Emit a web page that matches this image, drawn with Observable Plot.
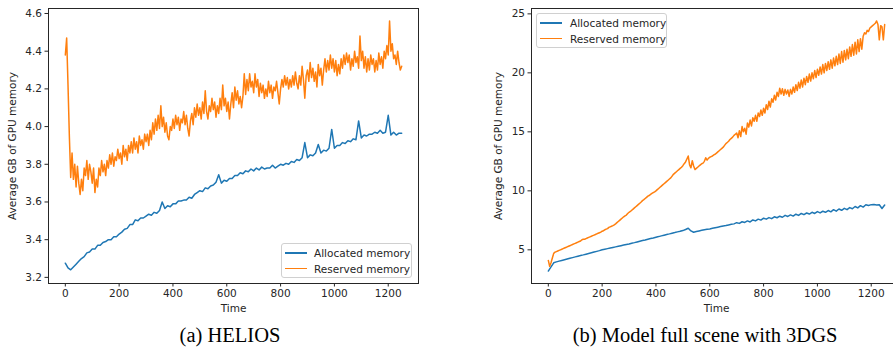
<!DOCTYPE html>
<html><head><meta charset="utf-8">
<script src="https://cdn.jsdelivr.net/npm/d3@7"></script>
<script src="https://cdn.jsdelivr.net/npm/@observablehq/plot@0.6"></script>
<style>
html,body{margin:0;padding:0;background:#fff;width:893px;height:360px;overflow:hidden;}
body{position:relative;font-family:"DejaVu Sans",sans-serif;}
.panel{position:absolute;top:0;}
.legend{position:absolute;border:1px solid #d0d0d0;border-radius:3px;background:rgba(255,255,255,0.85);font-size:10.5px;color:#262626;box-sizing:border-box;}
.legend .sw{position:absolute;height:1.5px;width:22px;}
.legend .lb{position:absolute;line-height:16px;white-space:nowrap;}
.caption{position:absolute;font-family:"Liberation Serif","Times New Roman",serif;font-size:20.5px;color:#000;white-space:nowrap;transform:translateX(-50%);line-height:1;}
</style>
</head><body>
<script>
// ---------- data ----------
const seriesNames = ["Allocated memory", "Reserved memory"];
const seriesColors = ["#1f77b4", "#ff7f0e"];
const xTicks = [0, 200, 400, 600, 800, 1000, 1200];
const xLabel = "Time";
const yLabel = "Average GB of GPU memory";
const captions = ["(a) HELIOS", "(b) Model full scene with 3DGS"];

// (a) HELIOS
const helTimeAlloc = d3.range(0, 1251, 10);
const helAlloc = [
3.275,3.25,3.24,3.255,3.27,3.285,3.30,3.31,3.33,3.335,
3.35,3.35,3.37,3.37,3.385,3.39,3.40,3.40,3.415,3.415,
3.43,3.44,3.455,3.46,3.48,3.48,3.505,3.50,3.515,3.515,
3.525,3.535,3.53,3.545,3.54,3.555,3.60,3.565,3.58,3.575,
3.59,3.59,3.605,3.605,3.61,3.61,3.625,3.62,3.64,3.65,
3.66,3.655,3.675,3.67,3.685,3.69,3.705,3.745,3.70,3.715,
3.71,3.725,3.725,3.74,3.74,3.755,3.75,3.765,3.76,3.775,
3.765,3.78,3.77,3.785,3.775,3.78,3.78,3.795,3.78,3.79,
3.80,3.795,3.805,3.80,3.815,3.81,3.825,3.82,3.835,3.915,
3.835,3.85,3.845,3.86,3.905,3.86,3.875,3.87,3.885,3.985,
3.885,3.90,3.90,3.915,3.91,3.925,3.92,3.935,3.93,4.03,
3.94,3.955,3.95,3.96,3.96,3.97,3.965,3.98,3.965,3.97,
4.06,3.955,3.97,3.955,3.965,3.965
];
const helTimeRes = d3.range(0, 1251, 5);
const helRes = [
4.38,4.47,4.22,3.95,3.73,3.86,3.72,3.80,3.68,3.79,
3.70,3.64,3.72,3.66,3.78,3.74,3.82,3.72,3.80,3.76,
3.70,3.78,3.65,3.72,3.68,3.78,3.74,3.82,3.76,3.80,
3.74,3.82,3.78,3.85,3.80,3.86,3.79,3.84,3.82,3.88,
3.83,3.86,3.80,3.90,3.84,3.88,3.82,3.90,3.86,3.92,
3.86,3.94,3.88,3.92,3.86,3.95,3.90,3.93,3.88,3.96,
3.92,3.96,3.90,3.98,3.93,4.02,3.96,4.04,3.98,4.06,
3.99,4.11,4.00,4.05,3.97,4.02,3.95,3.93,4.00,3.98,
4.04,3.99,4.06,4.01,4.05,3.98,4.04,4.02,4.08,4.01,
4.06,3.99,3.95,4.03,4.07,4.01,4.10,4.05,4.12,4.06,
4.10,4.04,4.13,4.07,4.19,4.08,4.04,4.11,4.08,4.15,
4.09,4.13,4.05,4.11,4.07,4.15,4.09,4.22,4.11,4.15,
4.08,4.13,4.04,4.12,4.18,4.10,4.21,4.14,4.19,4.12,
4.16,4.10,4.16,4.28,4.17,4.25,4.19,4.28,4.21,4.24,
4.18,4.28,4.21,4.25,4.16,4.23,4.18,4.22,4.15,4.20,
4.16,4.24,4.18,4.22,4.15,4.21,4.19,4.24,4.18,4.12,
4.20,4.25,4.21,4.27,4.22,4.26,4.20,4.25,4.21,4.27,
4.22,4.29,4.23,4.20,4.27,4.22,4.32,4.25,4.15,4.27,
4.30,4.24,4.34,4.26,4.31,4.24,4.29,4.21,4.33,4.27,
4.31,4.22,4.30,4.36,4.29,4.35,4.30,4.38,4.31,4.36,
4.29,4.35,4.27,4.33,4.28,4.36,4.31,4.38,4.33,4.39,
4.34,4.38,4.30,4.36,4.32,4.40,4.34,4.37,4.31,4.48,
4.35,4.40,4.31,4.37,4.29,4.36,4.30,4.38,4.33,4.36,
4.29,4.35,4.30,4.39,4.33,4.37,4.31,4.40,4.36,4.43,
4.38,4.56,4.40,4.44,4.36,4.38,4.33,4.40,4.34,4.30,
4.32
];
const helYTicks = [3.2, 3.4, 3.6, 3.8, 4.0, 4.2, 4.4, 4.6];

// (b) Model full scene with 3DGS
const fullTimeAlloc = d3.range(0, 1251, 10);
const fullAlloc = [
3.2,3.55,3.9,3.98,4.04,4.1,4.16,4.22,4.28,4.34,
4.4,4.46,4.52,4.57,4.63,4.69,4.75,4.81,4.87,4.93,
5.0,5.05,5.1,5.15,5.2,5.25,5.3,5.35,5.4,5.45,
5.5,5.56,5.61,5.67,5.73,5.79,5.84,5.9,5.96,6.01,
6.07,6.12,6.18,6.24,6.3,6.35,6.41,6.46,6.52,6.57,
6.63,6.72,6.83,6.6,6.49,6.55,6.6,6.65,6.7,6.74,
6.77,6.82,6.87,6.92,6.97,7.02,7.06,7.11,7.16,7.2,
7.3,7.24,7.38,7.32,7.45,7.36,7.53,7.45,7.6,7.52,
7.68,7.6,7.73,7.64,7.8,7.72,7.85,7.76,7.92,7.83,
7.96,7.86,8.02,7.92,8.08,7.98,8.12,8.03,8.18,8.08,
8.24,8.13,8.27,8.18,8.33,8.22,8.4,8.28,8.46,8.35,
8.52,8.4,8.58,8.48,8.67,8.55,8.74,8.62,8.82,8.76,
8.83,8.85,8.8,8.82,8.5,8.8
];
const fullTimeRes = d3.range(0, 1251, 5);
const fullRes = [
4.1,3.6,3.9,4.3,4.7,4.8,4.85,4.9,4.95,5.0,
5.05,5.1,5.15,5.2,5.25,5.3,5.35,5.4,5.45,5.5,
5.55,5.6,5.65,5.7,5.75,5.85,5.9,5.9,5.95,6.0,
6.05,6.1,6.15,6.2,6.25,6.3,6.35,6.4,6.45,6.5,
6.58,6.62,6.7,6.75,6.8,6.9,6.95,7.0,7.05,7.12,
7.2,7.3,7.4,7.5,7.6,7.7,7.8,7.88,7.95,8.08,
8.18,8.25,8.35,8.45,8.55,8.65,8.75,8.85,8.95,9.05,
9.17,9.25,9.35,9.45,9.55,9.6,9.7,9.78,9.85,9.92,
10.0,10.1,10.2,10.3,10.4,10.5,10.6,10.7,10.8,10.9,
11.0,11.1,11.25,11.4,11.5,11.6,11.7,11.8,11.9,12.0,
12.13,12.3,12.45,12.7,12.95,12.2,11.95,12.55,12.1,11.8,
11.9,12.0,12.1,12.2,12.3,12.35,12.5,12.8,12.6,12.75,
12.85,12.9,12.95,13.05,13.1,13.2,13.3,13.4,13.5,13.6,
13.7,13.85,14.0,14.1,14.2,14.35,14.45,14.55,14.7,14.8,
14.9,14.5,15.1,14.6,15.45,15.0,15.3,14.8,15.75,15.4,
16.0,15.5,16.2,15.9,16.4,15.9,16.6,16.3,16.85,16.4,
17.0,16.6,17.3,16.9,17.6,17.1,17.8,17.5,18.1,17.7,
18.35,18.0,18.7,18.2,18.65,18.1,18.6,18.2,18.55,18.0,
18.6,18.2,18.8,18.35,19.0,18.5,19.2,18.7,19.4,18.8,
19.55,19.0,19.7,19.2,19.9,19.3,20.0,19.5,20.2,19.6,
20.3,19.8,20.5,19.9,20.7,20.0,20.8,20.2,20.95,20.3,
21.1,20.4,21.25,20.6,21.4,20.7,21.6,20.8,21.8,20.9,
21.9,21.1,22.0,21.2,22.2,21.4,22.4,21.5,22.6,21.6,
22.8,21.8,22.9,22.0,23.1,23.4,23.3,23.6,23.5,23.8,
23.9,24.0,24.1,24.2,24.4,24.1,22.8,24.0,23.9,22.8,
24.1
];
const fullYTicks = [5, 10, 15, 20, 25];

// ---------- build ----------
function rows(tA, vA, tR, vR) {
  return [
    ...tA.map((t, i) => ({t, v: vA[i], s: seriesNames[0]})),
    ...tR.map((t, i) => ({t, v: vR[i], s: seriesNames[1]}))
  ];
}

function chart(data, yDomain, yTicks, fmt, yLabelOffset) {
  return Plot.plot({
    width: 445, height: 320,
    marginLeft: 48, marginRight: 27, marginTop: 8, marginBottom: 37,
    style: {fontFamily: "DejaVu Sans", fontSize: "10.5px", color: "#262626", background: "transparent"},
    x: {domain: [-62.5, 1312.5]},
    y: {domain: yDomain},
    color: {domain: seriesNames, range: seriesColors},
    marks: [
      Plot.line(data, {x: "t", y: "v", z: "s", stroke: "s", strokeWidth: 1.5, strokeLinejoin: "round"}),
      Plot.frame({stroke: "#262626", strokeWidth: 1}),
      Plot.axisX({ticks: xTicks, tickFormat: d3.format("d"), tickSize: 3.5, tickPadding: 3, label: xLabel, labelAnchor: "center", labelArrow: "none", labelOffset: 28}),
      Plot.axisY({ticks: yTicks, tickFormat: fmt, tickSize: 3.5, tickPadding: 3, label: yLabel, labelAnchor: "center", labelArrow: "none", labelOffset: yLabelOffset})
    ]
  });
}

function legend(left, top, swLeft, txtLeft) {
  const d = document.createElement("div");
  d.className = "legend";
  Object.assign(d.style, {left: left + "px", top: top + "px", width: "131px", height: "35px"});
  seriesNames.forEach((name, i) => {
    const sw = document.createElement("div");
    sw.className = "sw";
    Object.assign(sw.style, {left: swLeft + "px", top: (8 + i * 15.7) + "px", background: seriesColors[i]});
    const lb = document.createElement("div");
    lb.className = "lb";
    lb.textContent = name;
    Object.assign(lb.style, {left: txtLeft + "px", top: (1 + i * 15.7) + "px"});
    d.append(sw, lb);
  });
  return d;
}

const p1 = chart(rows(helTimeAlloc, helAlloc, helTimeRes, helRes), [3.1675, 4.6265], helYTicks, d3.format(".1f"), 40);
p1.classList.add("panel"); p1.style.left = "0px";
const p2 = chart(rows(fullTimeAlloc, fullAlloc, fullTimeRes, fullRes), [2.145, 25.455], fullYTicks, d3.format("d"), 37);
p2.classList.add("panel"); p2.style.left = "483px";
document.body.append(p1, p2);
document.body.append(legend(281, 243, 3, 32), legend(536, 13, 3, 33));

[[230, captions[0]], [705, captions[1]]].forEach(([cx, txt]) => {
  const c = document.createElement("div");
  c.className = "caption";
  c.textContent = txt;
  c.style.left = cx + "px";
  c.style.top = "325px";
  document.body.append(c);
});
</script>
</body></html>
